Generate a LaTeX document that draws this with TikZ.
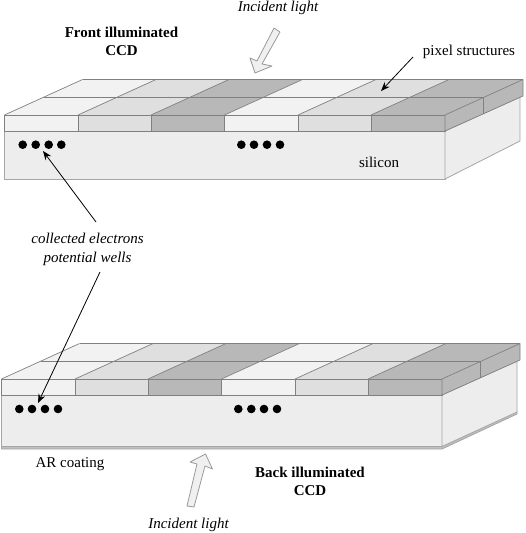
\documentclass[tikz,border=0pt]{standalone}
\usepackage{fontspec}
\setmainfont{Liberation Serif}
\usetikzlibrary{arrows.meta}

\definecolor{pixlight}{gray}{0.95}
\definecolor{pixmid}{gray}{0.875}
\definecolor{pixdark}{gray}{0.72}
\definecolor{sicolor}{gray}{0.93}
\definecolor{edgecolor}{gray}{0.5}

\tikzset{
    pixedge/.style={draw=edgecolor, line width=0.7pt, line join=round},
    siedge/.style={draw=edgecolor!70, line width=0.8pt, line join=round},
    electron/.style={circle, fill=black, inner sep=0pt, minimum size=8.6pt},
    leader/.style={-{Stealth[length=9pt,width=7pt]}, line width=0.8pt},
    lightarrow/.style={draw=black!40, fill=black!6, line width=0.8pt, line join=round},
    lbl/.style={font=\fontsize{15}{18}\selectfont, align=center, inner sep=0pt},
    heading/.style={lbl, font=\fontsize{15}{18}\selectfont\bfseries},
    slanted/.style={lbl, font=\fontsize{15}{19}\selectfont\itshape}
}

% One device: silicon block (face bottom #1, side bottom #2), two rows of pixels
\newcommand{\ccdbody}[2]{
    \fill[sicolor, siedge] (4.5,131) rectangle (445,#1);
    \fill[sicolor, siedge] (445,131) -- (520,97) -- (520,#2) -- (445,#1) -- cycle;
    \foreach \xa/\xb/\tone in {4.5/78/pixlight, 78/151/pixmid, 151/224.5/pixdark, 224.5/298/pixlight, 298/371/pixmid, 371/445/pixdark} {
        \fill[\tone] (\xa,115) -- (\xa+78,79.5) -- (\xb+78,79.5) -- (\xb,115) -- cycle;
        \fill[\tone, pixedge] (\xa,115) rectangle (\xb,131);
        \draw[pixedge] (\xa,115) -- (\xa+78,79.5);
    }
    % right end of the pixel row
    \fill[pixdark, pixedge] (445,115) -- (523,79.5) -- (523,96) -- (445,131) -- cycle;
    \draw[pixedge] (483,97.5) -- (483,114);
    \draw[pixedge] (82.5,79.5) -- (523,79.5);
    \draw[pixedge] (44,97.5) -- (483,97.5);
}

\begin{document}
\begin{tikzpicture}[x=1pt, y=-1pt]
    \useasboundingbox (0,0) rectangle (525,533);

    % Front illuminated device
    \ccdbody{179}{141}
    \foreach \x [count=\i] in {22.7, 35.7, 48.7, 61.3} {
        \node[electron] (fa\i) at (\x,144.7) {};
    }
    \foreach \x [count=\i] in {241.3, 254, 267, 280} {
        \node[electron] (fb\i) at (\x,144.7) {};
    }

    % Back illuminated device
    \begin{scope}[shift={(-3,264)}]
        % AR coating strip
        \fill[black!25, siedge] (4.5,182) -- (4.5,185) -- (445,185) -- (520,150) -- (520,147) -- (445,182) -- cycle;
        \ccdbody{182.5}{148}
    \end{scope}
    \foreach \x [count=\i] in {19.3, 32, 45, 58} {
        \node[electron] (ba\i) at (\x,409) {};
    }
    \foreach \x [count=\i] in {238.3, 251.3, 264, 277} {
        \node[electron] (bb\i) at (\x,409) {};
    }

    % Labels
    \node[slanted] (topincident) at (278,8) {Incident light};
    \node[heading] (fronttitle) at (121.5,41) {Front illuminated\\CCD};
    \node[lbl] (pixlabel) at (469,51.5) {pixel structures};
    \node[lbl] (silabel) at (379,162) {silicon};
    \node[slanted] (wellslabel) at (87.5,249) {collected electrons\\potential wells};
    \node[lbl] (arlabel) at (70,464.5) {AR coating};
    \node[heading] (backtitle) at (310,481) {Back illuminated\\CCD};
    \node[slanted] (botincident) at (188.5,525) {Incident light};

    % Leader arrows
    \coordinate (pixstart) at (413,57);
    \coordinate (pixtip) at (381,91);
    \coordinate (upstart) at (96,222);
    \coordinate (uptip) at (43,151);
    \coordinate (downstart) at (100,272);
    \coordinate (downtip) at (38,403);
    \draw[leader] (pixstart) -- (pixtip);
    \draw[leader] (upstart) -- (uptip);
    \draw[leader] (downstart) -- (downtip);

    % Hollow light arrows
    \draw[lightarrow] (274,28) -- (280,32) -- (262,64) -- (272,66) -- (255,73) -- (250,58) -- (257,61) -- cycle;
    \draw[lightarrow] (187,506) -- (194,507) -- (205,466) -- (212.5,469) -- (205.5,454) -- (190,462) -- (197,464) -- cycle;
\end{tikzpicture}
\end{document}
